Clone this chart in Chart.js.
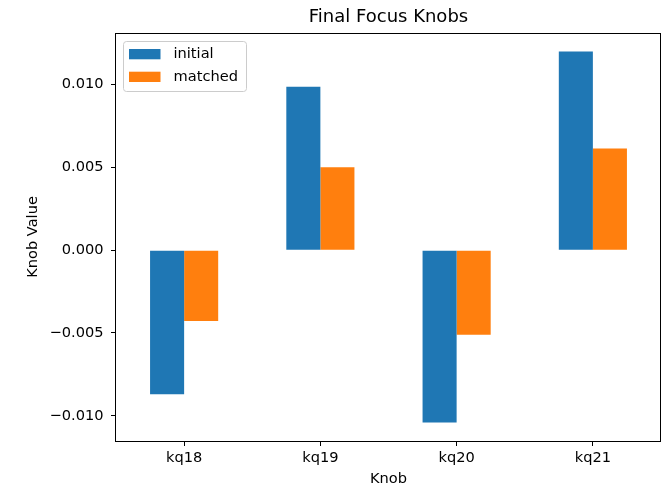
<!DOCTYPE html>
<html>
<head>
<meta charset="utf-8">
<script src="https://cdn.jsdelivr.net/npm/chart.js@4"></script>
<style>
  html, body { margin: 0; padding: 0; background: #fff; }
  #wrap { width: 662px; height: 489px; position: relative; }
</style>
</head>
<body>
<div id="wrap"><canvas id="knobs"></canvas></div>
<script>
// data
const knobs = ["kq18", "kq19", "kq20", "kq21"];
const initialValues = [-0.00869, 0.00986, -0.0104, 0.01199];
const matchedValues = [-0.00428, 0.0050, -0.00510, 0.00614];
const yTicks = [-0.010, -0.005, 0.000, 0.005, 0.010];
const yTickLabels = ["\u22120.010", "\u22120.005", "0.000", "0.005", "0.010"];

const FONT = "'DejaVu Sans', sans-serif";
const TEXT_SIZE = 14.6;

// matplotlib style 5% margin on the value axis
const allValues = initialValues.concat(matchedValues);
const dataMin = Math.min(0, ...allValues);
const dataMax = Math.max(0, ...allValues);
const margin = (dataMax - dataMin) * 0.05;

// legend inside the axes, upper left, like matplotlib
const innerLegend = {
  id: "innerLegend",
  afterDraw(chart) {
    const { ctx, chartArea } = chart;
    const x0 = chartArea.left + 7.5;
    const y0 = chartArea.top + 8.5;
    ctx.save();
    ctx.beginPath();
    ctx.roundRect(x0, y0, 123, 50, 3);
    ctx.fillStyle = "rgba(255,255,255,0.8)";
    ctx.fill();
    ctx.strokeStyle = "#cccccc";
    ctx.lineWidth = 1;
    ctx.stroke();
    ctx.font = TEXT_SIZE + "px " + FONT;
    ctx.textBaseline = "middle";
    chart.data.datasets.forEach((ds, i) => {
      const rowY = y0 + 7.5 + i * 22.7;
      ctx.fillStyle = ds.backgroundColor;
      ctx.fillRect(x0 + 5.5, rowY, 31.5, 10.3);
      ctx.fillStyle = "#000";
      ctx.fillText(ds.label, x0 + 50, rowY + 5.5);
    });
    ctx.restore();
  },
};

// spines on all four sides
const frame = {
  id: "frame",
  afterDatasetsDraw(chart) {
    const { ctx, chartArea } = chart;
    ctx.save();
    ctx.strokeStyle = "#000";
    ctx.lineWidth = 1;
    ctx.strokeRect(
      Math.round(chartArea.left) - 0.5,
      Math.round(chartArea.top) + 0.5,
      Math.round(chartArea.right - chartArea.left),
      Math.round(chartArea.bottom - chartArea.top)
    );
    ctx.restore();
  },
};

Chart.defaults.font.family = FONT;
Chart.defaults.color = "#000";

new Chart(document.getElementById("knobs").getContext("2d"), {
  type: "bar",
  data: {
    labels: knobs,
    datasets: [
      {
        label: "initial",
        data: initialValues,
        backgroundColor: "#1f77b4",
        borderWidth: 0,
        categoryPercentage: 0.5,
        barPercentage: 1.0,
      },
      {
        label: "matched",
        data: matchedValues,
        backgroundColor: "#ff7f0e",
        borderWidth: 0,
        categoryPercentage: 0.5,
        barPercentage: 1.0,
      },
    ],
  },
  options: {
    responsive: true,
    maintainAspectRatio: false,
    animation: false,
    layout: { padding: { top: 0, right: 1, bottom: 0, left: 0 } },
    scales: {
      x: {
        grid: {
          offset: false,
          drawOnChartArea: false,
          drawTicks: true,
          tickLength: 5,
          color: "#000",
        },
        border: { display: false },
        ticks: { padding: 3.5, font: { size: TEXT_SIZE } },
        title: {
          display: true,
          text: "Knob",
          font: { size: TEXT_SIZE },
          padding: { top: 0, bottom: 1.2 },
        },
        afterFit: (scale) => { scale.height = 48; },
      },
      y: {
        min: dataMin - margin,
        max: dataMax + margin,
        afterBuildTicks: (scale) => {
          scale.ticks = yTicks.map((v) => ({ value: v }));
        },
        grid: {
          drawOnChartArea: false,
          drawTicks: true,
          tickLength: 5,
          color: "#000",
        },
        border: { display: false },
        ticks: {
          padding: 7.5,
          font: { size: TEXT_SIZE },
          callback: (value, index) => yTickLabels[index],
        },
        title: {
          display: true,
          text: "Knob Value",
          font: { size: TEXT_SIZE },
          padding: { top: 24.2, bottom: 0 },
        },
        afterFit: (scale) => { scale.width = 116; },
      },
    },
    plugins: {
      legend: { display: false },
      tooltip: { enabled: false },
      title: {
        display: true,
        fullSize: false,
        text: "Final Focus Knobs",
        font: { size: 18, weight: "normal" },
        color: "#000",
        padding: { top: 6.7, bottom: 4.7 },
      },
    },
  },
  plugins: [frame, innerLegend],
});
</script>
</body>
</html>
